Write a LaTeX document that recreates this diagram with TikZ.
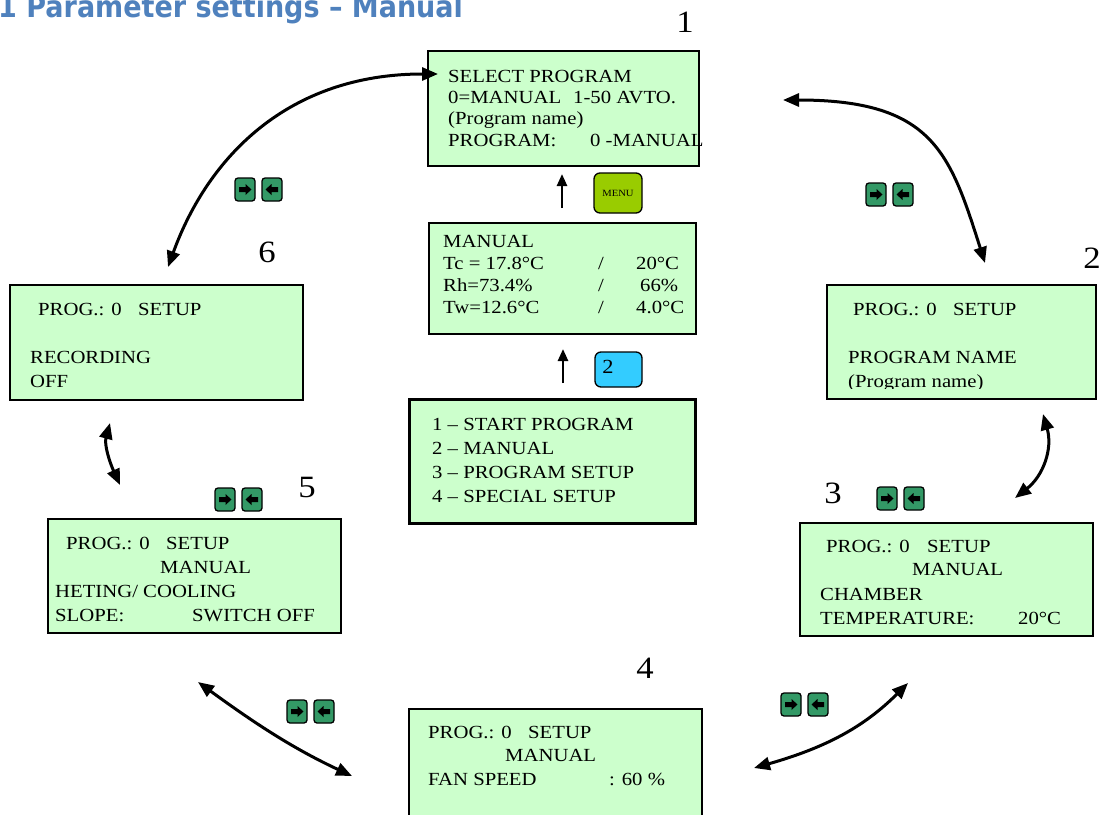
\documentclass[tikz,border=0pt]{standalone}
\usepackage{fontspec}
\setmainfont{Liberation Serif}[FakeStretch=1.12]
\newfontfamily\titlefont{DejaVu Sans}[FakeStretch=0.9]
\usetikzlibrary{arrows.meta}
\definecolor{boxgreen}{HTML}{CCFFCC}
\definecolor{btngreen}{HTML}{339966}
\definecolor{menugreen}{HTML}{99CC00}
\definecolor{keycyan}{HTML}{33CCFF}
\definecolor{titleblue}{HTML}{4F81BD}
\tikzset{
  screen/.style={draw=black, line width=1.8pt, fill=boxgreen, anchor=north west, inner sep=0pt},
  txt/.style={anchor=base west, inner sep=0pt, font=\fontsize{18.5}{21}\selectfont},
  numlbl/.style={inner sep=0pt, font=\fontsize{31}{31}\selectfont},
  cyc/.style={line width=3pt, {Triangle[length=16pt,width=13pt]}-{Triangle[length=16pt,width=13pt]}},
  uparr/.style={line width=2.5pt, -{Triangle[length=12pt,width=10pt]}},
  btn/.style={draw=black, line width=1.3pt, fill=btngreen, rounded corners=3pt, minimum width=20pt, minimum height=23pt, inner sep=0pt},
  keybtn/.style={draw=black, line width=1.3pt, rounded corners=6pt, inner sep=0pt},
}
\newcommand\tl[4]{\node[txt] (#1) at (#2,#3) {#4};}
\newcommand\btnpair[3]{%
  \node[btn] (#1r) at (#2+10,#3+11.5) {};
  \node[btn] (#1l) at (#2+37,#3+11.5) {};
  \fill ([shift={(-6,-2.5)}]#1r.center) -- ++(6.5,0) -- ++(0,-3) -- ++(6,5.5) -- ++(-6,5.5) -- ++(0,-3) -- ++(-6.5,0) -- cycle;
  \fill ([shift={(6,-2.5)}]#1l.center) -- ++(-6.5,0) -- ++(0,-3) -- ++(-6,5.5) -- ++(6,5.5) -- ++(0,-3) -- ++(6.5,0) -- cycle;
}
\begin{document}
\begin{tikzpicture}[x=1pt,y=-1pt]
\clip (0,0) rectangle (1108,814);
\fill[white] (0,0) rectangle (1108,814);

% title (cut at top)
\node[anchor=base west, inner sep=0pt, text=titleblue, font=\titlefont\bfseries\fontsize{30}{30}\selectfont] (title) at (-2,17) {1 Parameter settings – Manual};

% screens
\node[screen, minimum width=271pt, minimum height=115pt] (s1) at (427,50) {};
\tl{s1a}{448}{82}{SELECT PROGRAM}
\tl{s1b}{448}{103}{\makebox[125pt][l]{0=MANUAL}1-50 AVTO.}
\tl{s1c}{448}{124}{(Program name)}
\tl{s1d}{448}{146}{\makebox[142pt][l]{PROGRAM:}0 -MANUAL}

\node[screen, minimum width=267pt, minimum height=111pt] (sm) at (428,222) {};
\tl{sma}{443}{247}{MANUAL}
\tl{smb}{443}{269}{\makebox[155pt][l]{Tc = 17.8°C}\makebox[38pt][l]{/}20°C}
\tl{smc}{443}{291}{\makebox[155pt][l]{Rh=73.4\%}\makebox[38pt][l]{/}\hspace{4pt}66\%}
\tl{smd}{443}{313}{\makebox[155pt][l]{Tw=12.6°C}\makebox[38pt][l]{/}4.0°C}

\node[screen, line width=3pt, minimum width=286pt, minimum height=124pt] (menu) at (408,398) {};
\tl{mna}{432}{430}{1 – START PROGRAM}
\tl{mnb}{432}{454}{2 – MANUAL}
\tl{mnc}{432}{478}{3 – PROGRAM SETUP}
\tl{mnd}{432}{502}{4 – SPECIAL SETUP}

\node[screen, minimum width=269pt, minimum height=114pt] (s2) at (826,284) {};
\begin{scope}
\clip (826,284) rectangle (1095,388.5);
\tl{s2a}{853}{315}{\makebox[100pt][l]{PROG.: 0}SETUP}
\tl{s2b}{848}{363}{PROGRAM NAME}
\tl{s2c}{848}{387}{(Program name)}
\end{scope}

\node[screen, minimum width=293pt, minimum height=113pt] (s3) at (799,522) {};
\tl{s3a}{826}{552}{\makebox[101pt][l]{PROG.: 0}SETUP}
\tl{s3b}{912}{575}{MANUAL}
\tl{s3c}{820}{600}{CHAMBER}
\tl{s3d}{820}{624}{\makebox[198pt][l]{TEMPERATURE:}20°C}

\node[screen, minimum width=293pt, minimum height=120pt] (s4) at (408,708) {};
\tl{s4a}{428}{738}{\makebox[100pt][l]{PROG.: 0}SETUP}
\tl{s4b}{505}{761}{MANUAL}
\tl{s4c}{428}{785}{\makebox[181pt][l]{FAN SPEED}: 60 \%}

\node[screen, minimum width=293pt, minimum height=114pt] (s5) at (47,518) {};
\tl{s5a}{66}{549}{\makebox[100pt][l]{PROG.: 0}SETUP}
\tl{s5b}{160}{573}{MANUAL}
\tl{s5c}{55}{597}{HETING/ COOLING}
\tl{s5d}{55}{621}{\makebox[137pt][l]{SLOPE:}SWITCH OFF}

\node[screen, minimum width=293pt, minimum height=115pt] (s6) at (9,284) {};
\tl{s6a}{38}{315}{\makebox[100pt][l]{PROG.: 0}SETUP}
\tl{s6b}{30}{363}{RECORDING}
\tl{s6c}{30}{387}{OFF}

% number labels
\node[numlbl] (n1) at (685,22) {1};
\node[numlbl] (n2) at (1092,258) {2};
\node[numlbl] (n3) at (833,493) {3};
\node[numlbl] (n4) at (645,668) {4};
\node[numlbl] (n5) at (307,487) {5};
\node[numlbl] (n6) at (267,252) {6};

% keys
\node[keybtn, fill=menugreen, minimum width=48pt, minimum height=40pt, font=\fontsize{9.5}{10}\selectfont] (menukey) at (618,193) {MENU};
\node[keybtn, fill=keycyan, minimum width=47pt, minimum height=35pt] (key2) at (618.5,369.5) {};
\node[inner sep=0pt, font=\fontsize{20}{20}\selectfont] (key2t) at (608,367) {2};

% up arrows
\coordinate (u1s) at (562,208); \coordinate (u1e) at (562,174);
\coordinate (u2s) at (563,383); \coordinate (u2e) at (563,349);
\draw[uparr] (u1s) -- (u1e);
\draw[uparr] (u2s) -- (u2e);

% cycle arrows
\coordinate (a16s) at (438,74);  \coordinate (a16e) at (168,267);
\coordinate (a12s) at (783,100); \coordinate (a12e) at (985,263);
\coordinate (a23s) at (1043,414); \coordinate (a23e) at (1015,498);
\coordinate (a34s) at (908,683); \coordinate (a34e) at (754,768);
\coordinate (a45s) at (198,682); \coordinate (a45e) at (352,776);
\coordinate (a65s) at (110,423); \coordinate (a65e) at (120,485);
\draw[cyc] (a16s) .. controls +(-150,0) and +(40,-110) .. (a16e);
\draw[cyc] (a12s) .. controls +(150,0) and +(-35,-110) .. (a12e);
\draw[cyc] (a23s) .. controls +(10,35) and +(28,-22) .. (a23e);
\draw[cyc] (a34s) .. controls +(-45,45) and +(70,-20) .. (a34e);
\draw[cyc] (a45s) .. controls +(55,40) and +(-60,-28) .. (a45e);
\draw[cyc] (a65s) .. controls +(-6,22) and +(-10,-22) .. (a65e);

% arrow key pairs
\btnpair{p16}{235}{178}
\btnpair{p12}{866}{183}
\btnpair{p5}{215}{488}
\btnpair{p3}{877}{487}
\btnpair{p45}{287}{700}
\btnpair{p34}{781}{693}
\end{tikzpicture}
\end{document}
